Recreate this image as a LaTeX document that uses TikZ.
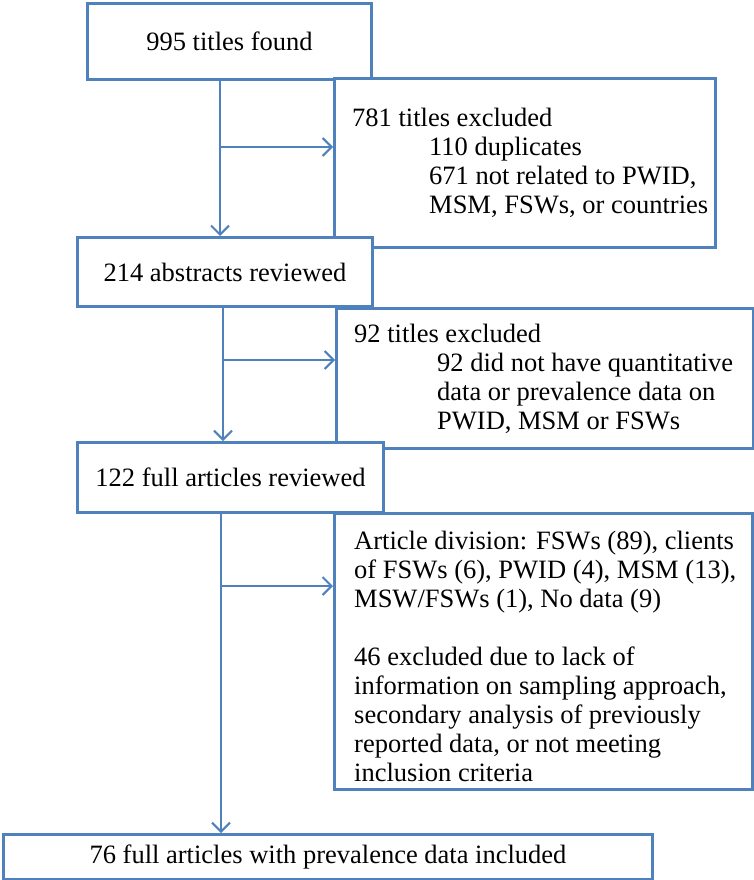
\documentclass[tikz,border=0pt]{standalone}
\usepackage{fontspec}
\setmainfont{Liberation Serif}
\usetikzlibrary{arrows.meta,calc}
\definecolor{ob}{HTML}{4F81BD}
\begin{document}
\begin{tikzpicture}[x=1pt,y=-1pt,
  box/.style={draw=ob, line width=3pt, fill=white, rectangle, inner sep=0pt, anchor=north west,
    font=\fontsize{26.5}{29}\selectfont},
  txt/.style={inner sep=0pt, align=left, anchor=west, font=\fontsize{26.5}{29}\selectfont},
  conn/.style={draw=ob, line width=2pt},
  arr/.style={conn, -{Straight Barb[length=9pt,width=18pt]}}]
\useasboundingbox (0,0) rectangle (754,880);
\fill[white] (0,0) rectangle (754,880);

\node[box, minimum width=284pt, minimum height=76pt] (b1) at (86,2) {995 titles found};
\node[box, minimum width=381pt, minimum height=169pt] (b2) at (333,77) {};
\node[box, minimum width=295pt, minimum height=69pt] (b3) at (76,236) {214 abstracts reviewed};
\node[box, minimum width=417pt, minimum height=140pt] (b4) at (335,307) {};
\node[box, minimum width=306pt, minimum height=70pt] (b5) at (76,441) {122 full articles reviewed};
\node[box, minimum width=418pt, minimum height=276pt] (b6) at (333,512) {};
\node[box, minimum width=649pt, minimum height=45pt] (b7) at (2,833) {76 full articles with prevalence data included};

\node[txt] (t2) at ($(b2.west)+(19,0)$) {781 titles excluded\\
  \hspace*{77pt}110 duplicates\\
  \hspace*{77pt}671 not related to PWID,\\
  \hspace*{77pt}MSM, FSWs, or countries};
\node[txt] (t4) at ($(b4.west)+(19,0)$) {92 titles excluded\\
  \hspace*{83pt}92 did not have quantitative\\
  \hspace*{83pt}data or prevalence data on\\
  \hspace*{83pt}PWID, MSM or FSWs};
\node[txt] (t6) at ($(b6.west)+(21,5)$) {Article division: FSWs (89), clients\\
  of FSWs (6), PWID (4), MSM (13),\\
  MSW/FSWs (1), No data (9)\\[29pt]
  46 excluded due to lack of\\
  information on sampling approach,\\
  secondary analysis of previously\\
  reported data, or not meeting\\
  inclusion criteria};

\coordinate (j1) at (220,147);
\coordinate (j2) at (223,360);
\coordinate (j3) at (221,586);
\draw[arr] (j1 |- b1.south) -- (j1 |- b3.north);
\draw[arr] (j1) -- (j1 -| b2.west);
\draw[arr] (j2 |- b3.south) -- (j2 |- b5.north);
\draw[arr] (j2) -- (j2 -| b4.west);
\draw[arr] (j3 |- b5.south) -- (j3 |- b7.north);
\draw[arr] (j3) -- (j3 -| b6.west);
\end{tikzpicture}
\end{document}
